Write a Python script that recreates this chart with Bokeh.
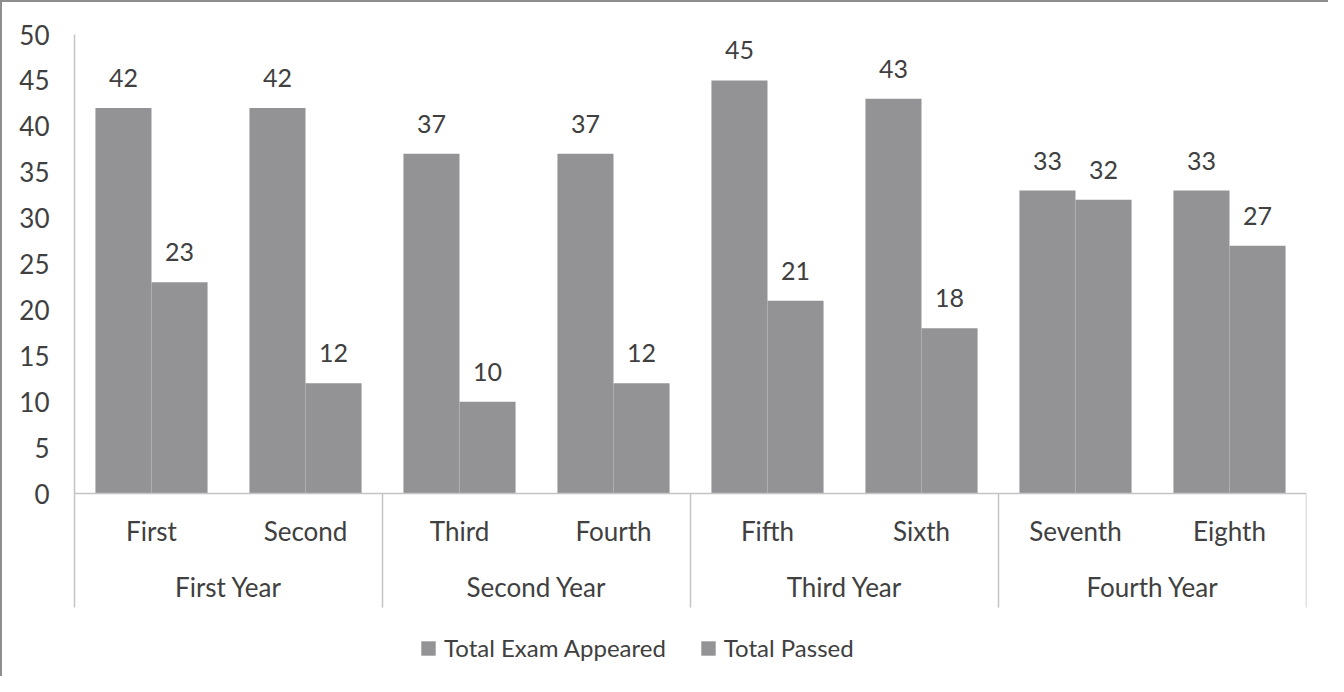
from bokeh.plotting import figure
from bokeh.models import (ColumnDataSource, FactorRange, Range1d, FixedTicker, LabelSet,
                          Legend, LegendItem, CategoricalAxis)
from bokeh.core.properties import value
from bokeh.transform import dodge
from bokeh.embed import file_html
from bokeh.resources import INLINE

years = ["First Year", "Second Year", "Third Year", "Fourth Year"]
semesters = ["First", "Second", "Third", "Fourth", "Fifth", "Sixth", "Seventh", "Eighth"]
appeared = [42, 42, 37, 37, 45, 43, 33, 33]
passed = [23, 12, 10, 12, 21, 18, 32, 27]
y_ticks = [0, 5, 10, 15, 20, 25, 30, 35, 40, 45, 50]

factors = [(years[i // 2], s) for i, s in enumerate(semesters)]

FONT = "Lato"
TXT = "#404040"
BAR = "#939396"
AX = "#c4c4c4"

src = ColumnDataSource(dict(x=factors, appeared=appeared, passed=passed,
                            appeared_s=[str(v) for v in appeared],
                            passed_s=[str(v) for v in passed]))

x_range = FactorRange(*factors, factor_padding=0, group_padding=0, subgroup_padding=0,
                      range_padding=0)
y_range = Range1d(-20.15, 50)

p = figure(x_range=x_range, y_range=y_range, width=1328, height=676,
           output_backend="svg", toolbar_location=None, x_axis_type=None,
           min_border_left=72, min_border_right=24, min_border_top=32, min_border_bottom=0,
           styles={"border-top": "2px solid #8e8e8e", "border-left": "2px solid #8e8e8e"})
p.outline_line_color = None
p.xgrid.visible = False
p.ygrid.visible = False
p.background_fill_color = "white"
p.border_fill_color = "white"

r1 = p.vbar(x=dodge("x", -0.182, range=x_range), top="appeared", width=0.364, source=src,
            fill_color=BAR, line_color=None)
r2 = p.vbar(x=dodge("x", 0.182, range=x_range), top="passed", width=0.364, source=src,
            fill_color=BAR, line_color=None)

for col, off in (("appeared", -0.182), ("passed", 0.182)):
    lab = LabelSet(x=dodge("x", off, range=x_range), y=col, text=col + "_s", source=src,
                   text_align="center", text_baseline="alphabetic", y_offset=21,
                   text_font=value(FONT), text_font_size=value("25px"), text_color=TXT)
    p.add_layout(lab)

# y axis
ya = p.yaxis[0]
ya.ticker = FixedTicker(ticks=y_ticks)
ya.bounds = (-12.42, 50)
ya.axis_line_color = AX
ya.axis_line_width = 1.5
ya.major_tick_line_color = None
ya.minor_tick_line_color = None
ya.major_label_standoff = 19
ya.major_label_text_font = FONT
ya.major_label_text_font_size = "26px"
ya.major_label_text_color = TXT

# x axis: sub labels
xa = CategoricalAxis(fixed_location=0)
xa.axis_line_color = AX
xa.axis_line_width = 1.5
xa.major_tick_line_color = None
xa.minor_tick_line_color = None
xa.major_label_standoff = 15
xa.major_label_text_font = FONT
xa.major_label_text_font_size = "26px"
xa.major_label_text_color = TXT
xa.group_text_color = None
xa.separator_line_color = None
p.add_layout(xa, "below")

# x axis: group labels
xb = CategoricalAxis(fixed_location=0)
xb.axis_line_color = None
xb.major_tick_line_color = None
xb.minor_tick_line_color = None
xb.major_label_standoff = 71
xb.major_label_text_font = FONT
xb.major_label_text_font_size = "26px"
xb.major_label_text_color = None
xb.group_text_font = FONT
xb.group_text_font_size = "26px"
xb.group_text_font_style = "normal"
xb.group_text_color = TXT
xb.separator_line_color = None
p.add_layout(xb, "below")

# group separators (at group boundaries in synthetic coordinates)
sep_x = [2, 4, 6, 8]
p.segment(x0=sep_x, x1=sep_x, y0=[0] * 4, y1=[-12.42] * 4, line_color=AX, line_width=1.5)

legend = Legend(items=[LegendItem(label="Total Exam Appeared", renderers=[r1]),
                       LegendItem(label="Total Passed", renderers=[r2])],
                orientation="horizontal", location=(345, 16),
                glyph_width=18, glyph_height=18, label_standoff=7, spacing=33,
                padding=0, margin=0, border_line_color=None, background_fill_alpha=0,
                label_text_font=FONT, label_text_font_size="24px", label_text_color=TXT)
p.add_layout(legend, "center")

open("out.html", "w").write(file_html(p, INLINE))
